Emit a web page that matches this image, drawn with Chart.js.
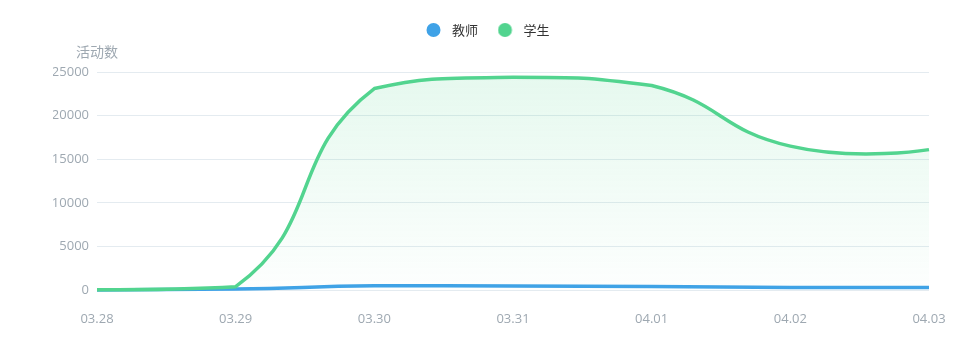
<!DOCTYPE html>
<html>
<head>
<meta charset="utf-8">
<script src="https://cdn.jsdelivr.net/npm/chart.js@4.4.1/dist/chart.umd.min.js"></script>
<style>
html,body{margin:0;padding:0;background:#fff;}
#wrap{width:978px;height:360px;}
</style>
</head>
<body>
<div id="wrap"><canvas id="c" width="978" height="360"></canvas></div>
<script>
// ---- data ----
const categories = ['03.28', '03.29', '03.30', '03.31', '04.01', '04.02', '04.03'];
const seriesNames = ['教师', '学生'];
const teacherValues = [10, 110, 480, 460, 400, 290, 300];
const studentValues = [30, 380, 23100, 24400, 23450, 16500, 16100];
const yTickValues = [0, 5000, 10000, 15000, 20000, 25000];
const yAxisName = '活动数';

// ---- styles ----
const BLUE = '#3fa2e7';
const GREEN = '#52d48f';
const TICK_COLOR = '#9ea8b1';
const GRID_COLOR = '#e4ebf0';
const LEGEND_GAP = 25.5;

function dotImage(color) {
  const cv = document.createElement('canvas');
  cv.width = 26; cv.height = 16;
  const g = cv.getContext('2d');
  g.fillStyle = color;
  g.beginPath();
  g.arc(7.5, 8, 7, 0, Math.PI * 2);
  g.fill();
  return cv;
}

function areaGradient(rgb, a0, a1) {
  return (ctx) => {
    const chart = ctx.chart;
    const a = chart.chartArea;
    if (!a) return 'rgba(' + rgb + ',' + a0 + ')';
    const g = chart.ctx.createLinearGradient(0, a.top, 0, a.bottom);
    g.addColorStop(0, 'rgba(' + rgb + ',' + a0 + ')');
    g.addColorStop(1, 'rgba(' + rgb + ',' + a1 + ')');
    return g;
  };
}

// ECharts-4 style smoothing of the line through the scale-computed pixel points
function applySmooth(pts, smooth) {
  let minX = Infinity, minY = Infinity, maxX = -Infinity, maxY = -Infinity;
  pts.forEach(p => {
    minX = Math.min(minX, p.x); maxX = Math.max(maxX, p.x);
    minY = Math.min(minY, p.y); maxY = Math.max(maxY, p.y);
  });
  const cl = (v, a, b) => Math.min(Math.max(v, a), b);
  let c0x = pts[0].x, c0y = pts[0].y;
  pts[0].cp1x = pts[0].x; pts[0].cp1y = pts[0].y;
  for (let i = 1; i < pts.length; i++) {
    const p = pts[i], pr = pts[i - 1], nx = pts[i + 1];
    let c1x, c1y, ratio = 0.5, vx = 0, vy = 0;
    if (!nx) { c1x = p.x; c1y = p.y; }
    else {
      vx = nx.x - pr.x; vy = nx.y - pr.y;
      const l0 = Math.hypot(p.x - pr.x, p.y - pr.y);
      const l1 = Math.hypot(nx.x - p.x, nx.y - p.y);
      ratio = l1 / (l0 + l1);
      c1x = p.x - vx * smooth * (1 - ratio);
      c1y = p.y - vy * smooth * (1 - ratio);
    }
    pr.cp2x = cl(c0x, minX, maxX); pr.cp2y = cl(c0y, minY, maxY);
    p.cp1x = cl(c1x, minX, maxX); p.cp1y = cl(c1y, minY, maxY);
    c0x = p.x + vx * smooth * ratio; c0y = p.y + vy * smooth * ratio;
  }
  const last = pts[pts.length - 1];
  last.cp2x = last.x; last.cp2y = last.y;
}

const smoothPlugin = {
  id: 'echartsSmooth',
  afterInit(chart) {
    const lg = chart.legend;
    if (lg) {
      const f = lg.fit;
      lg.fit = function () { f.call(this); this.height += LEGEND_GAP; };
    }
  },
  beforeDraw(chart) {
    chart.getSortedVisibleDatasetMetas().forEach(meta => {
      const line = meta.dataset;
      const pts = meta.data;
      if (!line || pts.length < 2) return;
      line.updateControlPoints(chart.chartArea, 'x');
      applySmooth(pts, 0.5);
    });
  },
  afterDraw(chart) {
    const a = chart.chartArea;
    const c = chart.ctx;
    c.save();
    c.font = '14px "Noto Sans CJK SC", sans-serif';
    c.fillStyle = TICK_COLOR;
    c.textAlign = 'center';
    c.textBaseline = 'middle';
    c.fillText(yAxisName, a.left, a.top - 20.5);
    c.restore();
  }
};

new Chart(document.getElementById('c'), {
  type: 'line',
  data: {
    labels: categories,
    datasets: [
      {
        label: seriesNames[0],
        data: teacherValues,
        borderColor: BLUE,
        backgroundColor: areaGradient('63,162,231', 0.12, 0.0),
        pointStyle: dotImage(BLUE),
        borderWidth: 3.5,
        pointRadius: 0,
        pointHoverRadius: 0,
        tension: 0.4,
        fill: 'origin',
        clip: false,
        order: 1
      },
      {
        label: seriesNames[1],
        data: studentValues,
        borderColor: GREEN,
        backgroundColor: areaGradient('82,212,143', 0.15, 0.01),
        pointStyle: dotImage(GREEN),
        borderWidth: 3.5,
        pointRadius: 0,
        pointHoverRadius: 0,
        tension: 0.4,
        fill: 'origin',
        clip: false,
        order: 0
      }
    ]
  },
  options: {
    responsive: false,
    animation: false,
    events: [],
    layout: { padding: { left: 53, right: 49, top: -2.5, bottom: 0 } },
    plugins: {
      legend: {
        display: true,
        position: 'top',
        align: 'center',
        labels: {
          usePointStyle: true,
          boxWidth: 13,
          boxHeight: 13,
          padding: 26,
          color: '#333333',
          font: { family: '"Noto Sans CJK SC", sans-serif', size: 13 },
          sort: (a, b) => a.datasetIndex - b.datasetIndex
        }
      },
      tooltip: { enabled: false },
      title: { display: false }
    },
    scales: {
      x: {
        type: 'category',
        offset: false,
        grid: { display: false, drawTicks: false },
        border: { display: false },
        ticks: {
          color: TICK_COLOR,
          font: { family: '"Open Sans", sans-serif', size: 13 },
          padding: 21,
          maxRotation: 0,
          autoSkip: false
        },
        afterFit: (s) => { s.height = 70; }
      },
      y: {
        min: 0,
        max: 25000,
        grid: { color: GRID_COLOR, lineWidth: 1, drawTicks: false },
        border: { display: false },
        afterBuildTicks: (s) => { s.ticks = yTickValues.map(v => ({ value: v })); },
        ticks: {
          color: TICK_COLOR,
          font: { family: '"Open Sans", sans-serif', size: 13 },
          padding: 8,
          callback: (v) => String(v)
        },
        afterFit: (s) => { s.width = 44; }
      }
    }
  },
  plugins: [smoothPlugin]
});
</script>
</body>
</html>
